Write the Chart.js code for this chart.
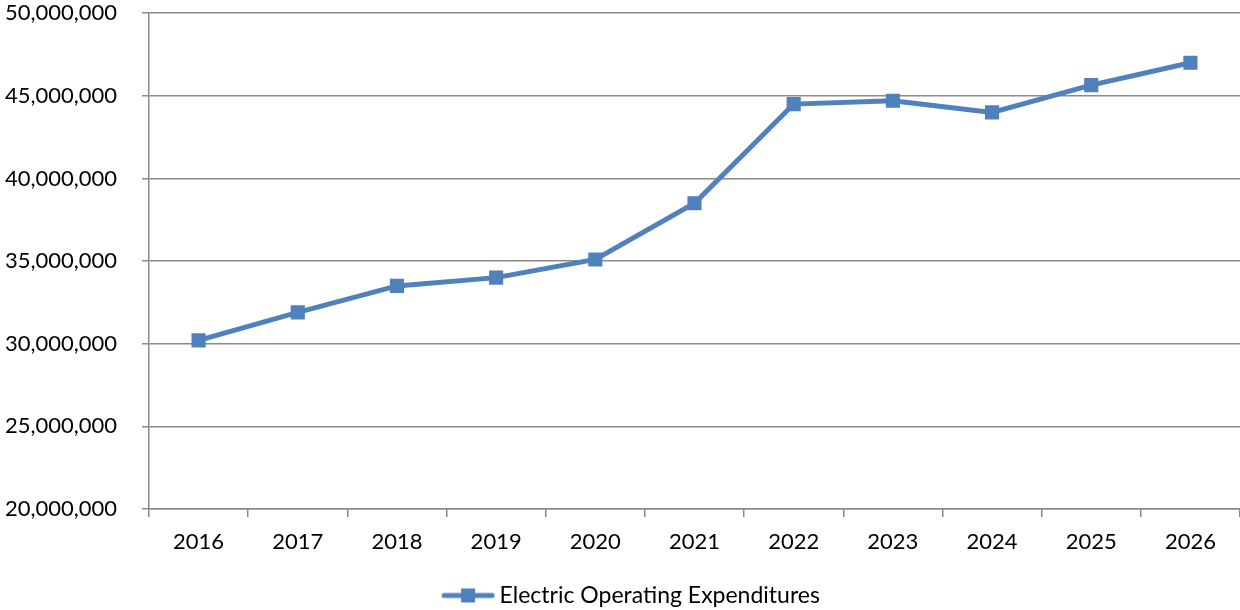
<!DOCTYPE html>
<html>
<head>
<meta charset="utf-8">
<script src="https://cdn.jsdelivr.net/npm/chart.js@4/dist/chart.umd.min.js"></script>
<style>
html,body{margin:0;padding:0;background:#fff;}
#wrap{width:1240px;height:610px;position:relative;}
</style>
</head>
<body>
<div id="wrap"><canvas id="c" width="1240" height="610"></canvas></div>
<script>
const years = ['2016','2017','2018','2019','2020','2021','2022','2023','2024','2025','2026'];
const expenditures = [30200000, 31900000, 33500000, 34000000, 35100000, 38500000, 44500000, 44700000, 44000000, 45650000, 47000000];
const seriesName = 'Electric Operating Expenditures';
const yMin = 20000000, yMax = 50000000, yStep = 5000000;

const blue = '#4F81BD';
const gridColor = '#8a8a8a';
const fontFamily = 'Lato, "Open Sans", sans-serif';

// legend symbol: line with square marker (right part of a wider transparent image)
const sym = document.createElement('canvas');
sym.width = 77; sym.height = 16;
(function(){
  const g = sym.getContext('2d');
  const off = 23;
  g.strokeStyle = blue; g.lineWidth = 5; g.lineCap = 'round';
  g.beginPath(); g.moveTo(off + 3, 8); g.lineTo(off + 51, 8); g.stroke();
  g.fillStyle = blue; g.fillRect(off + 20, 1, 14, 14);
})();

new Chart(document.getElementById('c'), {
  type: 'line',
  data: {
    labels: years,
    datasets: [{
      label: seriesName,
      data: expenditures,
      borderColor: blue,
      backgroundColor: blue,
      borderWidth: 5,
      pointStyle: 'rect',
      pointRadius: 10,
      pointHoverRadius: 10,
      pointBackgroundColor: blue,
      pointBorderColor: blue,
      pointBorderWidth: 0,
      tension: 0
    }]
  },
  options: {
    responsive: false,
    animation: false,
    events: [],
    layout: { autoPadding: false, padding: { top: -0.5, right: 0, bottom: -7, left: 5 } },
    plugins: {
      tooltip: { enabled: false },
      legend: {
        position: 'bottom',
        labels: {
          usePointStyle: true,
          pointStyleWidth: 63,
          color: '#000',
          font: { family: fontFamily, size: 23 },
          padding: 9,
          generateLabels(chart) {
            return [{ text: seriesName, pointStyle: sym, fillStyle: blue, strokeStyle: blue, lineWidth: 0, datasetIndex: 0, fontColor: '#000' }];
          }
        }
      }
    },
    scales: {
      x: {
        offset: true,
        grid: { display: true, offset: true, drawOnChartArea: false, drawTicks: true, tickLength: 8, color: gridColor, lineWidth: 1.5 },
        border: { display: true, color: gridColor, width: 1.5 },
        ticks: { color: '#000', font: { family: fontFamily, size: 22 }, padding: 12, maxRotation: 0 },
        afterFit(s) { s.height = 66; }
      },
      y: {
        min: yMin, max: yMax,
        grid: { color: gridColor, lineWidth: 1.5, tickLength: 7 },
        border: { display: true, color: gridColor, width: 1.5 },
        ticks: {
          stepSize: yStep,
          color: '#000',
          font: { family: fontFamily, size: 22 },
          padding: 0,
          crossAlign: 'far',
          callback: v => v.toLocaleString('en-US')
        },
        afterFit(s) { s.width = 144; }
      }
    }
  }
});
</script>
</body>
</html>
